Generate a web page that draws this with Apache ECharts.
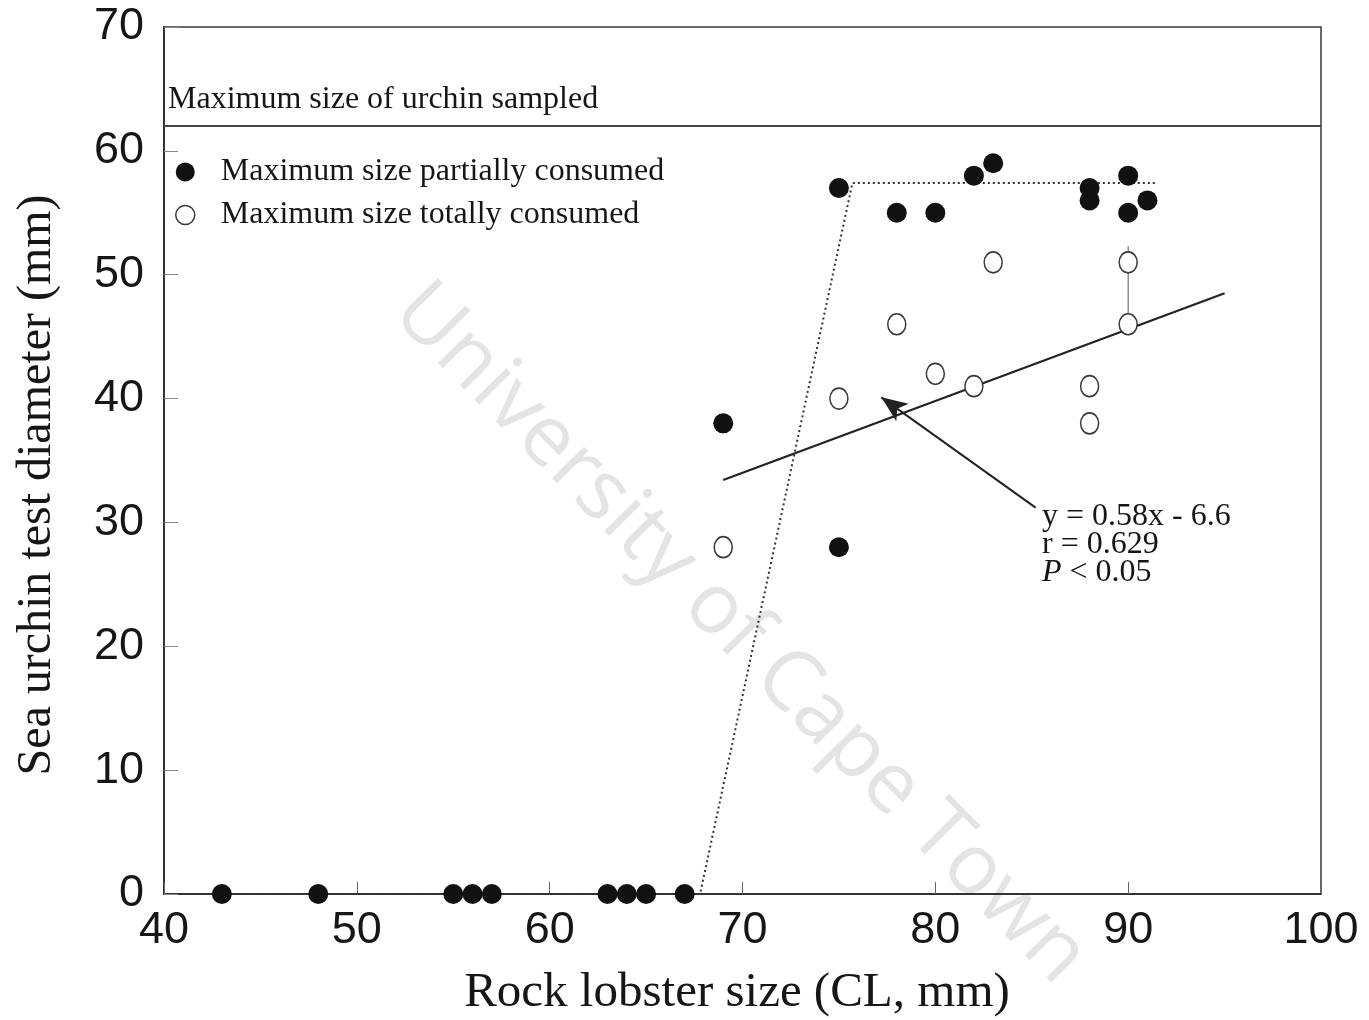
<!DOCTYPE html>
<html>
<head>
<meta charset="utf-8">
<title>Sea urchin size vs rock lobster size</title>
<script src="https://cdn.jsdelivr.net/npm/echarts@6/dist/echarts.min.js"></script>
<style>
  html, body { margin: 0; padding: 0; background: #fff; }
  #chart { width: 1369px; height: 1020px; }
</style>
</head>
<body>
<div id="chart"></div>
<script>
// Rock lobster carapace length (mm) and largest urchin partially eaten
const partialX = [43, 48, 55, 56, 57, 63, 64, 65, 67, 69, 75, 75, 78, 80, 82, 83, 88, 88, 90, 90, 91];
const partialY = [0, 0, 0, 0, 0, 0, 0, 0, 0, 38, 57, 28, 55, 55, 58, 59, 57, 56, 58, 55, 56];

// Largest urchin totally eaten
const totalX = [69, 75, 78, 80, 82, 83, 88, 88, 90, 90];
const totalY = [28, 40, 46, 42, 41, 51, 41, 38, 51, 46];

// Dotted envelope of the partially consumed maxima
const envelopeX = [42, 67.8, 75.7, 91.5];
const envelopeY = [0, 0, 57.4, 57.4];

// Fitted regression for totally consumed maxima: y = 0.58x - 6.6
const fitSlope = 0.58;
const fitIntercept = -6.6;
const fitRangeX = [69, 95];

// Largest urchin in the samples
const sampledMax = 62;

// Short vertical rule at 90 mm
const ruleX = [90, 90];
const ruleY = [52.3, 45.1];

// Annotation arrow (tail, head)
const arrowX = [85.2, 77.2];
const arrowY = [31.2, 40.1];

const xTicks = [40, 50, 60, 70, 80, 90, 100];
const yTicks = [0, 10, 20, 30, 40, 50, 60, 70];

const zip = (xs, ys) => xs.map((x, i) => [x, ys[i]]);

const serif = '"Liberation Serif", "Times New Roman", serif';
const sans = '"Liberation Sans", Arial, sans-serif';
const ink = '#161616';

const chart = echarts.init(document.getElementById('chart'), null, { renderer: 'canvas' });

const option = {
  backgroundColor: '#ffffff',
  animation: false,
  grid: {
    left: 164, right: 48, top: 27, bottom: 126,
    show: true, borderColor: '#3a3a3a', borderWidth: 1.5
  },
  xAxis: {
    type: 'value',
    min: xTicks[0], max: xTicks[xTicks.length - 1], interval: 10,
    axisLine: { show: true, lineStyle: { color: '#333', width: 2 } },
    axisTick: { show: true, inside: true, length: 12, lineStyle: { color: '#666', width: 1 } },
    axisLabel: { fontFamily: sans, fontSize: 45, color: ink, margin: 14 },
    splitLine: { show: false }
  },
  yAxis: {
    type: 'value',
    min: yTicks[0], max: yTicks[yTicks.length - 1], interval: 10,
    axisLine: { show: true, lineStyle: { color: '#333', width: 2 } },
    axisTick: { show: true, inside: true, length: 14, lineStyle: { color: '#888', width: 1 } },
    axisLabel: { fontFamily: sans, fontSize: 45, color: ink, margin: 20 },
    splitLine: { show: false }
  },
  legend: {
    orient: 'vertical',
    left: 175, top: 156,
    itemWidth: 19, itemHeight: 19, itemGap: 11,
    padding: 0,
    textStyle: { fontFamily: serif, fontSize: 32, color: ink, lineHeight: 28, padding: [0, 0, 0, 21] },
    data: [
      { name: 'Maximum size partially consumed', icon: 'circle',
        itemStyle: { color: '#111', opacity: 1 } },
      { name: 'Maximum size totally consumed', icon: 'circle',
        itemStyle: { color: '#ffffff', borderColor: '#3a3a3a', borderWidth: 1.5, opacity: 1 } }
    ]
  },
  graphic: [
    {
      type: 'text', z: -10, silent: true,
      x: 740, y: 634, rotation: -0.79,
      style: {
        text: 'University of Cape Town',
        font: '84px "Open Sans", Roboto, sans-serif',
        fill: '#e4e4e4',
        align: 'center', verticalAlign: 'middle'
      }
    },
    {
      type: 'text', x: 37, y: 485, rotation: Math.PI / 2,
      style: {
        text: 'Sea urchin test diameter (mm)',
        font: '48px ' + serif,
        fill: ink,
        align: 'center', verticalAlign: 'middle'
      }
    },
    {
      type: 'text', x: 737, y: 993,
      style: {
        text: 'Rock lobster size (CL, mm)',
        font: '49px ' + serif,
        fill: ink,
        align: 'center', verticalAlign: 'middle'
      }
    },
    {
      type: 'text', left: 1042, top: 501,
      style: {
        text: 'y = 0.58x - 6.6\nr = 0.629\n{i|P} < 0.05',
        font: '32px ' + serif,
        lineHeight: 28,
        fill: ink,
        rich: { i: { fontStyle: 'italic', fontFamily: serif, fontSize: 32, lineHeight: 28 } }
      }
    }
  ],
  series: [
    {
      name: 'envelope',
      type: 'line',
      data: zip(envelopeX, envelopeY),
      symbol: 'none',
      lineStyle: { color: '#333', width: 2, type: [2, 3] },
      z: 2,
      silent: true
    },
    {
      name: 'fit',
      type: 'line',
      data: fitRangeX.map(x => [x, fitSlope * x + fitIntercept]),
      symbol: 'none',
      lineStyle: { color: '#222', width: 2.2 },
      z: 3,
      silent: true
    },
    {
      name: 'rule',
      type: 'line',
      data: zip(ruleX, ruleY),
      symbol: 'none',
      lineStyle: { color: '#555', width: 1 },
      z: 3,
      silent: true
    },
    {
      name: 'sampled',
      type: 'line',
      data: [],
      markLine: {
        silent: true,
        symbol: ['none', 'none'],
        lineStyle: { color: '#444', width: 2, type: 'solid' },
        label: {
          show: true,
          position: 'insideStartTop',
          formatter: 'Maximum size of urchin sampled',
          fontFamily: serif, fontSize: 32, color: ink,
          distance: [4, 10]
        },
        data: [{ yAxis: sampledMax }]
      }
    },
    {
      name: 'arrow',
      type: 'line',
      data: [],
      markLine: {
        silent: true,
        symbol: ['none', 'arrow'],
        symbolSize: [16, 26],
        lineStyle: { color: '#222', width: 2, type: 'solid' },
        label: { show: false },
        data: [[
          { coord: [arrowX[0], arrowY[0]] },
          { coord: [arrowX[1], arrowY[1]] }
        ]]
      }
    },
    {
      name: 'Maximum size totally consumed',
      type: 'scatter',
      data: zip(totalX, totalY),
      symbol: 'circle',
      symbolSize: [18, 21],
      itemStyle: { color: '#ffffff', borderColor: '#3a3a3a', borderWidth: 1.6, opacity: 1 },
      z: 5
    },
    {
      name: 'Maximum size partially consumed',
      type: 'scatter',
      data: zip(partialX, partialY),
      symbol: 'circle',
      symbolSize: 20,
      itemStyle: { color: '#111', opacity: 1 },
      z: 6
    }
  ]
};

chart.setOption(option);
</script>
</body>
</html>
